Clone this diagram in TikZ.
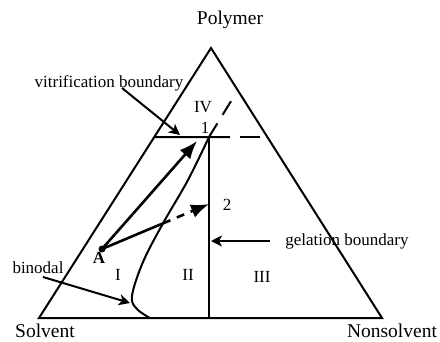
\documentclass[tikz,border=0pt]{standalone}
\usepackage{fontspec}
\setmainfont{Liberation Serif}
\usetikzlibrary{calc}
\usetikzlibrary{arrows.meta}

\begin{document}
\begin{tikzpicture}[x=1pt,y=-1pt,line width=2pt,
  lab/.style={font=\fontsize{17}{17}\selectfont,inner sep=0pt},
  corner/.style={font=\fontsize{19.5}{19.5}\selectfont,inner sep=0pt},
  fat/.style={line width=2.6pt,-{Latex[length=18pt,width=14pt]}},
  point/.style={-{Stealth[length=11pt,width=11pt,inset=3pt]}}]
\useasboundingbox (0,0) rectangle (440,341);
% corners of the triangle
\coordinate (P) at (211,48);
\coordinate (S) at (39,318);
\coordinate (N) at (382,318);
\coordinate (j1) at (209,137);
\coordinate (vl) at ($(S)!0.670!(P)$);
\coordinate (g0) at (209,318);
\coordinate (bt) at (236,93);
\node (A) at (102,249) {};
\node (p2) at (209,204) {};
\coordinate (x1) at ($(A.center)!0.57!(p2.center)$);

\draw[line join=miter] (S) -- (P) -- (N) -- cycle;
\draw (vl) -- (230,137);
\draw (240,137) -- (260,137);
\draw (j1) -- (g0);
\draw[dash pattern=on 16pt off 10pt] (j1) -- (bt);
\draw plot[smooth,tension=0.6] coordinates {(j1) (188,180) (x1) (143,262) (132,296) (137,309) (150,318)};

\fill (A.center) circle (3.5pt);
\draw[fat] (A.center) -- (197,141);
\draw[line width=2.6pt] (A.center) -- (x1);
\draw[fat,dash pattern=on 8pt off 7pt] (x1) -- (p2.center);

\node[corner] (pol) at (230,20) {Polymer};
\node[corner] (sol) at (45,331) {Solvent};
\node[corner] (non) at (392,331) {Nonsolvent};

\node[lab] (vit) at (109,83) {vitrification boundary};
\node[lab] (bin) at (38,268) {binodal};
\node[lab] (gel) at (347,241) {gelation boundary};
\coordinate (gt) at (270,241);
\coordinate (gh) at (211,241);
\draw[point] (122,88) -- (180,135);
\draw[point] (43,277) -- (130,303);
\draw[point] (gt) -- (gh);

\node[lab] (r4) at (203,107) {IV};
\node[lab] (n1) at (205,128) {1};
\node[lab] (n2) at (227,205) {2};
\node[lab] (r1) at (118,275) {I};
\node[lab] (r2) at (188,275) {II};
\node[lab] (r3) at (262,277) {III};
\node[lab,font=\bfseries\fontsize{17}{17}\selectfont] (na) at (99,258) {A};
\end{tikzpicture}
\end{document}
